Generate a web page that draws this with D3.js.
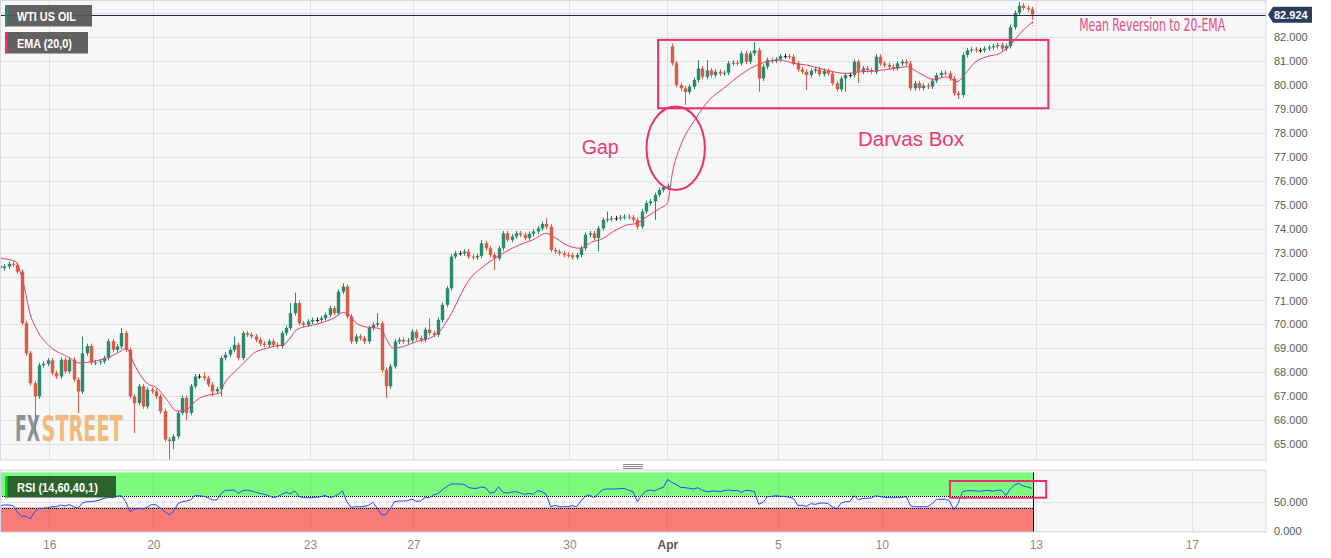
<!DOCTYPE html>
<html><head><meta charset="utf-8">
<script src="https://cdn.jsdelivr.net/npm/d3@7"></script>
<style>
html,body{margin:0;padding:0;background:#fff;}
svg{display:block;font-family:"Liberation Sans",Arial,sans-serif;}
</style></head><body>
<svg id="chart" width="1331" height="558"></svg>
<script>
// ---------------- DATA (2-hour bars) ----------------
const instrument = "WTI US OIL";
const emaLabel = "EMA (20,0)";
const rsiLabel = "RSI (14,60,40,1)";
const lastPrice = 82.924;

const opens = [
72.45,72.35,72.42,72.53,72.49,72.20,70.05,68.80,67.55,67.00,
68.30,68.36,68.50,67.97,67.83,68.53,68.04,68.53,67.70,67.20,
68.80,69.10,68.40,68.42,68.46,68.60,69.30,68.94,69.08,69.64,
68.94,67.00,66.72,67.42,66.58,67.28,67.21,67.00,66.38,65.20,
65.13,65.33,66.31,66.93,66.31,67.42,67.83,67.83,67.76,67.49,
67.21,67.30,68.60,68.74,68.94,69.15,68.60,69.64,69.57,69.50,
69.36,69.20,69.15,69.30,69.15,69.10,69.64,69.85,70.47,70.89,
70.05,69.99,70.12,70.19,70.19,70.26,70.40,70.68,70.47,71.37,
71.58,70.33,69.29,69.50,69.43,69.29,69.85,69.99,70.05,68.10,
67.42,68.25,69.29,69.36,69.29,69.33,69.70,69.43,69.36,69.78,
69.64,69.57,70.19,70.82,71.51,72.83,72.97,72.97,73.04,72.83,
72.80,72.86,73.39,73.18,72.90,72.76,73.18,73.80,73.53,73.67,
73.80,73.74,73.60,73.78,73.88,74.01,74.19,74.08,73.11,73.04,
72.97,72.90,72.89,72.80,72.90,73.18,73.74,73.80,73.60,74.01,
74.36,74.39,74.43,74.43,74.47,74.50,74.47,74.36,74.08,74.71,
75.06,75.13,75.40,75.61,75.72,81.60,80.90,79.99,79.85,79.70,
79.92,80.20,80.68,80.33,80.60,80.40,80.54,80.47,80.50,80.89,
80.92,80.89,81.31,80.96,81.31,81.44,80.26,80.75,81.03,81.00,
81.06,81.19,81.19,81.17,80.89,80.64,80.54,80.40,80.58,80.64,
80.44,80.58,80.47,80.06,79.81,80.26,80.40,80.40,80.96,80.54,
80.68,80.61,80.54,81.17,80.89,80.82,80.75,80.68,80.89,80.96,
80.89,79.85,80.06,79.86,79.96,79.92,80.17,80.40,80.50,80.47,
80.26,79.64,79.57,81.24,81.44,81.47,81.44,81.44,81.51,81.56,
81.61,81.65,81.51,81.61,82.40,83.00,83.30,83.20,83.15];

const highs = [
72.55,72.52,72.63,72.63,72.59,72.30,70.15,68.90,67.65,68.40,
68.46,68.60,68.60,68.07,68.63,68.63,68.63,68.63,67.80,69.50,
69.20,69.20,68.52,68.56,68.70,69.40,69.40,69.18,69.85,69.74,
69.04,67.10,67.52,67.52,67.38,67.38,67.31,67.10,66.48,65.30,
65.43,66.41,67.03,67.03,67.52,67.93,67.93,68.00,67.86,67.59,
67.40,68.70,68.84,69.04,69.50,69.25,69.74,69.74,69.67,69.60,
69.46,69.30,69.40,69.40,69.25,69.74,69.95,70.89,71.33,70.99,
70.15,70.22,70.29,70.29,70.36,70.50,70.78,70.78,71.47,71.72,
71.68,70.43,69.60,69.60,69.53,69.95,70.09,70.47,70.15,68.20,
68.35,69.39,69.46,69.46,69.43,69.80,69.80,69.53,69.88,70.26,
69.74,70.29,70.92,71.61,72.93,73.07,73.07,73.14,73.14,72.93,
72.96,73.53,73.49,73.28,73.00,73.28,73.90,73.90,73.77,73.90,
73.90,73.84,73.88,73.98,74.11,74.29,74.43,74.18,73.21,73.14,
73.07,73.00,72.99,73.00,73.28,73.84,73.90,73.90,74.11,74.46,
74.71,74.53,74.53,74.57,74.60,74.60,74.57,74.46,74.81,75.16,
75.23,75.50,75.71,75.82,75.88,81.72,81.00,80.09,79.95,80.02,
80.30,81.03,80.78,81.03,80.70,80.64,80.64,80.60,80.99,81.02,
81.02,81.41,81.41,81.41,81.79,81.54,80.85,81.13,81.13,81.16,
81.29,81.29,81.29,81.27,80.99,80.74,80.64,80.68,80.74,80.74,
80.68,80.68,80.57,80.16,80.36,80.50,80.50,81.06,81.06,80.78,
80.78,80.71,81.27,81.27,80.99,80.92,80.85,80.99,81.06,81.06,
80.99,80.16,80.16,80.06,80.06,80.27,80.50,80.60,80.60,80.57,
80.36,79.74,81.34,81.54,81.57,81.57,81.54,81.61,81.66,81.71,
81.75,81.75,81.71,82.50,83.10,83.45,83.40,83.30,83.25];

const lows = [
72.25,72.25,72.32,72.39,72.10,69.95,68.70,67.45,65.47,66.90,
68.20,68.26,67.87,67.73,67.73,67.94,67.94,67.60,66.30,67.10,
68.70,68.30,68.30,68.32,68.36,68.50,68.84,68.84,68.98,68.84,
66.90,65.47,66.62,66.48,66.48,67.11,66.90,66.28,65.10,64.36,
64.80,65.23,66.21,66.00,66.21,67.32,67.73,67.66,67.39,67.00,
67.11,67.00,68.50,68.64,68.84,68.50,68.50,69.47,69.40,69.26,
69.10,69.05,69.05,69.05,69.00,69.00,69.54,69.75,70.37,69.95,
69.89,69.89,70.02,70.09,70.09,70.16,70.30,70.37,70.37,71.27,
70.23,69.19,69.19,69.33,69.19,69.19,69.75,69.89,68.00,66.93,
67.32,68.15,69.19,69.19,69.19,69.23,69.33,69.26,69.26,69.54,
69.47,69.47,70.09,70.72,71.41,72.73,72.87,72.87,72.73,72.70,
72.70,72.76,73.08,72.80,72.28,72.66,73.08,73.43,73.43,73.57,
73.64,73.50,73.50,73.68,73.78,73.91,73.98,73.01,72.94,72.87,
72.80,72.79,72.70,72.70,72.80,73.08,73.64,73.50,73.04,73.91,
74.26,74.29,74.33,74.33,74.37,74.37,74.26,73.98,73.98,74.61,
74.96,74.36,75.30,75.51,75.62,80.80,79.89,79.75,79.15,79.60,
79.82,80.10,80.23,80.23,80.30,80.30,80.37,80.37,80.40,80.79,
80.79,80.79,80.86,80.86,81.21,79.71,80.16,80.65,80.90,80.90,
80.96,81.09,81.07,80.79,80.54,80.44,79.78,80.30,80.48,80.34,
80.34,80.37,79.96,79.71,79.71,79.71,80.30,80.30,80.08,80.44,
80.51,80.44,80.44,80.79,80.72,80.65,80.58,80.58,80.79,80.79,
79.75,79.75,79.76,79.76,79.82,79.82,80.07,80.30,80.37,80.16,
79.54,79.40,79.47,81.14,81.34,81.34,81.34,81.34,81.41,81.46,
81.51,81.41,81.41,81.51,82.30,82.90,83.10,83.05,82.82];

const closes = [
72.35,72.42,72.53,72.49,72.20,70.05,68.80,67.55,67.00,68.30,
68.36,68.50,67.97,67.83,68.53,68.04,68.53,67.70,67.20,68.80,
69.10,68.40,68.42,68.46,68.60,69.30,68.94,69.08,69.64,68.94,
67.00,66.72,67.42,66.58,67.28,67.21,67.00,66.38,65.20,65.13,
65.33,66.31,66.93,66.31,67.42,67.83,67.83,67.76,67.49,67.21,
67.30,68.60,68.74,68.94,69.15,68.60,69.64,69.57,69.50,69.36,
69.20,69.15,69.30,69.15,69.10,69.64,69.85,70.47,70.89,70.05,
69.99,70.12,70.19,70.19,70.26,70.40,70.68,70.47,71.37,71.58,
70.33,69.29,69.50,69.43,69.29,69.85,69.99,70.05,68.10,67.42,
68.25,69.29,69.36,69.29,69.33,69.70,69.43,69.36,69.78,69.64,
69.57,70.19,70.82,71.51,72.83,72.97,72.97,73.04,72.83,72.80,
72.86,73.39,73.18,72.90,72.76,73.18,73.80,73.53,73.67,73.80,
73.74,73.60,73.78,73.88,74.01,74.19,74.08,73.11,73.04,72.97,
72.90,72.89,72.80,72.90,73.18,73.74,73.80,73.60,74.01,74.36,
74.39,74.43,74.43,74.47,74.50,74.47,74.36,74.08,74.71,75.06,
75.13,75.40,75.61,75.72,75.78,80.90,79.99,79.85,79.70,79.92,
80.20,80.68,80.33,80.60,80.40,80.54,80.47,80.50,80.89,80.92,
80.89,81.31,80.96,81.31,81.44,80.26,80.75,81.03,81.00,81.06,
81.19,81.19,81.17,80.89,80.64,80.54,80.40,80.58,80.64,80.44,
80.58,80.47,80.06,79.81,80.26,80.40,80.40,80.96,80.54,80.68,
80.61,80.54,81.17,80.89,80.82,80.75,80.68,80.89,80.96,80.89,
79.85,80.06,79.86,79.96,79.92,80.17,80.40,80.50,80.47,80.26,
79.64,79.57,81.24,81.44,81.47,81.44,81.44,81.51,81.56,81.61,
81.65,81.51,81.61,82.40,83.00,83.30,83.20,83.15,82.924];

// EMA(20) readings: [bar index, value]
const emaPoints = [
[0,72.76],[3.5,72.63],[5.4,71.72],[6.9,70.47],[8.5,69.78],[11.5,69.08],[15.4,68.67],
[18.5,68.39],[21.5,68.46],[24.6,68.6],[27.7,68.87],[29.2,69.01],[30.8,68.39],[33.8,67.56],
[36.2,67.35],[38.5,66.86],[40.8,66.38],[43.1,66.44],[44.6,66.72],[46.1,66.93],[48,67.05],
[50.7,67.14],[51.8,67.56],[53.8,67.97],[56.2,68.39],[58.5,68.8],[61.5,69.01],[63,69.08],
[65.4,69.15],[66.9,69.43],[68.4,69.78],[70.7,69.92],[73.8,70.05],[76.9,70.26],[79.2,70.5],
[80.4,70.4],[82.2,70.05],[84.6,69.89],[86.9,69.85],[88,69.78],[89.2,69.36],[90.7,69.01],
[93,69.08],[96.1,69.29],[99.1,69.43],[101.4,69.71],[103.6,70.3],[108.2,71.86],[112,72.49],
[113.6,72.7],[116.7,73.04],[119.8,73.32],[122.9,73.53],[126,73.8],[127.6,73.67],[130.6,73.32],
[133.7,73.18],[136.8,73.46],[138.4,73.53],[141.5,73.88],[144.6,74.15],[146.9,74.22],
[149.2,74.5],[152.3,74.85],[153.9,75.05],[155.2,76.44],[156.9,77.42],[160.5,78.6],
[163.5,79.35],[166.9,79.85],[170.7,80.4],[173.8,80.75],[176.9,80.96],[180,81.03],
[183,80.89],[186.1,80.82],[189.2,80.68],[192.3,80.54],[195.3,80.47],[198.4,80.54],
[201.5,80.57],[204.6,80.64],[207.6,80.72],[209.1,80.75],[212.2,80.47],[215.3,80.22],
[218.4,80.33],[220.7,80.13],[223,80.54],[224.6,80.89],[227.6,81.17],[230.6,81.31],
[232.2,81.51],[236,82.28],[238,82.6]];

const rsiValues = [
43.2,44.4,44.4,43.2,32,25,25.6,20.5,33,38.7,
38.7,39.8,41.5,41.5,44.4,42.7,45,41.5,38.7,47.8,
50.1,50.1,51.2,52.9,55.7,57.4,56.9,59.7,60.3,50.1,
33,37,38.7,37.5,41,45.5,44.4,38.7,33,27.8,
33,46.1,50.1,51.2,53.4,60.3,60.3,59.2,56.9,52.9,
52.9,64.3,69.4,69.4,70,64.3,68.8,70,68.3,66,
64.3,62.6,60.3,56.9,58.6,62.6,66,63.7,68.3,58.6,
56.9,56.9,56.9,57.4,58.6,60.8,56.9,58.6,62.6,68.3,
50.1,40.3,41.5,41.5,42,43.8,49,38.7,27.3,27.8,
37.5,50.1,51.2,51.2,51.8,54.6,50.6,51.2,56.9,56.9,
61.4,63.7,70,75.6,80.2,80.2,80.2,79.6,74.5,72.8,
72.8,75,73.9,64.8,66,75.6,66,64.8,66.5,67.1,
64.8,62.6,64.3,62.6,68.8,67.1,62.6,41.5,43.8,41.5,
41.5,41.5,43.2,41.5,51.2,59.2,61.4,56.9,63.7,70.5,
71.7,71.7,71.7,72.2,72.8,69.4,67.1,50.1,61.4,68.3,
70,68.3,72.2,74.5,88,83,79.1,74.5,73.9,72.8,
71.7,73.9,69.4,67.1,67.7,68.3,67.1,68.8,70,68.8,
69.4,66,69.4,68.8,67.1,45.5,49,58.6,59.2,60.3,
59.2,59.2,57.4,55.7,43.8,43.8,42,46.6,45.5,47.2,
47.8,46.6,41,37.5,47.8,50.1,50.1,60.3,53.4,55.7,
55.7,56.3,60.3,58.6,57.4,56.9,56.9,56.9,57.4,58.6,
43.2,41.5,41.5,41.5,41.5,47.2,54,54,54.6,51.2,
36,47.2,67.1,68.8,68.8,68.3,67.7,68.8,69.4,67.7,
69.4,69.4,60.3,71.7,78.5,81.3,76.9,75,72.8];

const priceTicks = [65,66,67,68,69,70,71,72,73,74,75,76,77,78,79,80,81,82];
const rsiTicks = [0,50];
const rsiBands = {upper: 60, lower: 40};
const dayLabels = ["16","20","23","27","30","Apr","5","10","13","17"];
const dayPositions = [11.37,35.37,71.51,95.34,131.33,153.93,179.40,203.39,238.92,274.9];

// annotations in data units (bar index, price / rsi)
const darvasBox = {i0: 151.8, i1: 241.8, p0: 79.02, p1: 81.87};
const gapEllipse = {i: 155.85, p: 77.35, di: 6.73, dp: 1.74};
const rsiBox = {i0: 219.1, i1: 241.3, r0: 56.8, r1: 85.3};
const notes = [
  {text: "Gap", i: 134.2, p: 77.11, size: 19.5},
  {text: "Darvas Box", i: 197.9, p: 77.44, size: 20.5}
];
const meanRev = {text: "Mean Reversion to 20-EMA", i: 248.9, p: 82.25, w: 146};
const watermark = [{text: "FX", color: "#8e929a", i: 3.46, w: 25}, {text: "STREET", color: "#f2b87c", i: 9.6, w: 81}];

// ---------------- DRAWING ----------------
const GREEN = "#2a8a6f", RED = "#dc5b45", PINK = "#ec2f6b";
const plotW = 1266;
const main = {top: 0.5, bottom: 460};
const sub = {top: 470, bottom: 532};

const svg = d3.select("#chart");
const x = d3.scaleLinear().domain([0, 292]).range([0, plotW]);
const y = d3.scaleLinear().domain([65, 82]).range([444.3, 36.8]);
const yR = d3.scaleLinear().domain([0, 100]).range([531, 472.4]);

// squeeze a text horizontally to an exact width (condensed look)
function fitWidth(sel, x0, y0, w) {
  sel.attr("x", 0).attr("y", 0);
  const natural = sel.node().getComputedTextLength() || w;
  sel.attr("transform", `translate(${x0},${y0}) scale(${w / natural},1)`);
}

const defs = svg.append("defs");
defs.append("clipPath").attr("id", "clipMain").append("rect")
  .attr("x", 0).attr("y", main.top).attr("width", plotW).attr("height", main.bottom - main.top);
defs.append("clipPath").attr("id", "clipSub").append("rect")
  .attr("x", 0).attr("y", sub.top).attr("width", plotW).attr("height", sub.bottom - sub.top);

// panel backgrounds
svg.append("rect").attr("x", 0.5).attr("y", main.top).attr("width", plotW - 0.5)
  .attr("height", main.bottom - main.top).attr("fill", "#f7f7f7");
svg.append("rect").attr("x", 0.5).attr("y", sub.top).attr("width", plotW - 0.5)
  .attr("height", sub.bottom - sub.top).attr("fill", "#f7f7f7");

const gMain = svg.append("g").attr("clip-path", "url(#clipMain)");
const gSub = svg.append("g").attr("clip-path", "url(#clipSub)");

// grid (main)
const gridPrices = d3.range(64, 84);
gMain.append("g").selectAll("line").data(gridPrices).join("line")
  .attr("x1", 0).attr("x2", plotW)
  .attr("y1", d => Math.round(y(d)) + 0.5).attr("y2", d => Math.round(y(d)) + 0.5)
  .attr("stroke", "#e1e1e1").attr("stroke-width", 1);
gMain.append("g").selectAll("line").data(dayPositions).join("line")
  .attr("x1", d => Math.round(x(d)) + 0.5).attr("x2", d => Math.round(x(d)) + 0.5)
  .attr("y1", main.top).attr("y2", main.bottom)
  .attr("stroke", "#e1e1e1").attr("stroke-width", 1);

// watermark (two separate words, squeezed)
gMain.append("g").selectAll("text").data(watermark).join("text")
  .attr("font-family", "'Liberation Sans Narrow','DejaVu Sans Condensed',sans-serif")
  .attr("font-weight", "bold").attr("font-size", 35)
  .attr("fill", d => d.color).text(d => d.text)
  .each(function(d) { fitWidth(d3.select(this), x(d.i), 441, d.w); });

// candles
const idx = d3.range(closes.length);
const cColor = i => closes[i] > opens[i] ? GREEN : (closes[i] < opens[i] ? RED : "#222");
const cx = i => Math.round(x(i)) + 0.5;
gMain.append("g").selectAll("line").data(idx).join("line")
  .attr("x1", cx).attr("x2", cx)
  .attr("y1", i => y(highs[i])).attr("y2", i => y(lows[i]))
  .attr("stroke", cColor).attr("stroke-width", 1);
gMain.append("g").selectAll("rect").data(idx).join("rect")
  .attr("x", i => cx(i) - 1.7).attr("width", 3.4)
  .attr("y", i => y(Math.max(opens[i], closes[i])))
  .attr("height", i => Math.max(1, Math.abs(y(opens[i]) - y(closes[i]))))
  .attr("fill", cColor);

// EMA line
gMain.append("path").datum(emaPoints)
  .attr("d", d3.line().x(d => x(d[0])).y(d => y(d[1])).curve(d3.curveMonotoneX))
  .attr("fill", "none").attr("stroke", "#ee3a6f").attr("stroke-width", 1);

// last price line
gMain.append("line").attr("x1", 0).attr("x2", plotW)
  .attr("y1", Math.round(y(lastPrice)) + 0.5).attr("y2", Math.round(y(lastPrice)) + 0.5)
  .attr("stroke", "#1e2b45").attr("stroke-width", 1);

// annotations
gMain.append("rect")
  .attr("x", x(darvasBox.i0)).attr("y", y(darvasBox.p1))
  .attr("width", x(darvasBox.i1) - x(darvasBox.i0)).attr("height", y(darvasBox.p0) - y(darvasBox.p1))
  .attr("fill", "none").attr("stroke", PINK).attr("stroke-width", 2);
gMain.append("ellipse")
  .attr("cx", x(gapEllipse.i)).attr("cy", y(gapEllipse.p))
  .attr("rx", x(gapEllipse.di) - x(0)).attr("ry", y(0) - y(gapEllipse.dp))
  .attr("fill", "none").attr("stroke", PINK).attr("stroke-width", 2);
gMain.selectAll("text.note").data(notes).join("text").attr("class", "note")
  .attr("x", d => x(d.i)).attr("y", d => y(d.p))
  .attr("font-size", d => d.size).attr("fill", "#ea3a72").text(d => d.text);
const mr = gMain.append("text")
  .attr("font-family", "'Liberation Sans Narrow','DejaVu Sans Condensed',sans-serif")
  .attr("font-size", 17).attr("fill", "#ee4a80")
  .text(meanRev.text);
fitWidth(mr, x(meanRev.i), y(meanRev.p), meanRev.w);
gMain.append("line")
  .attr("x1", cx(closes.length - 1)).attr("x2", cx(closes.length - 1))
  .attr("y1", y(82.8)).attr("y2", y(82.45))
  .attr("stroke", PINK).attr("stroke-width", 1.2).attr("stroke-dasharray", "2,2");

// panel borders
svg.append("rect").attr("x", 0.5).attr("y", main.top).attr("width", plotW - 0.5)
  .attr("height", main.bottom - main.top).attr("fill", "none").attr("stroke", "#d3d8e4");
svg.append("rect").attr("x", 0.5).attr("y", sub.top).attr("width", plotW - 0.5)
  .attr("height", sub.bottom - sub.top).attr("fill", "none").attr("stroke", "#d3d8e4");

// resize handle
svg.append("g").selectAll("line").data([464, 466, 468]).join("line")
  .attr("x1", 623).attr("x2", 643).attr("y1", d => d + 0.5).attr("y2", d => d + 0.5)
  .attr("stroke", "#8a8a8a").attr("stroke-width", 1);

// RSI panel
const dataEndX = x(closes.length - 1) + 1.5;
gSub.append("rect").attr("x", 0).attr("width", dataEndX)
  .attr("y", yR(100)).attr("height", yR(rsiBands.upper) - yR(100)).attr("fill", "#7dfa7d");
gSub.append("rect").attr("x", 0).attr("width", dataEndX)
  .attr("y", yR(rsiBands.lower)).attr("height", yR(0) - yR(rsiBands.lower) + 2).attr("fill", "#f97c78");
gSub.append("g").selectAll("line").data(rsiTicks).join("line")
  .attr("x1", 0).attr("x2", plotW)
  .attr("y1", d => Math.round(yR(d)) + 0.5).attr("y2", d => Math.round(yR(d)) + 0.5)
  .attr("stroke", "rgba(0,0,0,0.08)");
gSub.append("g").selectAll("line").data(dayPositions).join("line")
  .attr("x1", d => Math.round(x(d)) + 0.5).attr("x2", d => Math.round(x(d)) + 0.5)
  .attr("y1", sub.top).attr("y2", sub.bottom)
  .attr("stroke", "rgba(0,0,0,0.07)");
gSub.append("g").selectAll("line").data([rsiBands.upper, rsiBands.lower]).join("line")
  .attr("x1", 0).attr("x2", dataEndX)
  .attr("y1", d => Math.round(yR(d)) + 0.5).attr("y2", d => Math.round(yR(d)) + 0.5)
  .attr("stroke", "#000").attr("stroke-width", 1).attr("stroke-dasharray", "1,1");
gSub.append("line").attr("x1", Math.round(dataEndX) + 0.5).attr("x2", Math.round(dataEndX) + 0.5)
  .attr("y1", yR(100)).attr("y2", sub.bottom).attr("stroke", "#000");
gSub.append("path").datum(rsiValues)
  .attr("d", d3.line().x((d, i) => x(i)).y(d => yR(d)))
  .attr("fill", "none").attr("stroke", "#1f4cff").attr("stroke-width", 1);
gSub.append("rect")
  .attr("x", x(rsiBox.i0)).attr("y", yR(rsiBox.r1))
  .attr("width", x(rsiBox.i1) - x(rsiBox.i0)).attr("height", yR(rsiBox.r0) - yR(rsiBox.r1))
  .attr("fill", "none").attr("stroke", PINK).attr("stroke-width", 2);

// right axes
const yAxis = d3.axisRight(y).tickValues(priceTicks).tickFormat(d3.format(".3f")).tickSize(0).tickPadding(8);
const gy = svg.append("g").attr("transform", `translate(${plotW},0)`).call(yAxis);
const yAxisR = d3.axisRight(yR).tickValues(rsiTicks).tickFormat(d3.format(".3f")).tickSize(0).tickPadding(8);
const gyr = svg.append("g").attr("transform", `translate(${plotW},0)`).call(yAxisR);
[gy, gyr].forEach(g => {
  g.select(".domain").remove();
  g.selectAll("text").attr("font-size", 11).attr("fill", "#5a5a5a")
    .attr("font-family", "'Liberation Sans',Arial,sans-serif");
});

// bottom axis
const xAxis = d3.axisBottom(x).tickValues(dayPositions).tickFormat((d, i) => dayLabels[i]).tickSize(0).tickPadding(8);
const gx = svg.append("g").attr("transform", `translate(0,${sub.bottom})`).call(xAxis);
gx.select(".domain").remove();
gx.selectAll("text").attr("font-size", 12)
  .attr("font-family", "'Liberation Sans',Arial,sans-serif")
  .attr("font-weight", (d, i) => dayLabels[i] === "Apr" ? "bold" : "normal")
  .attr("fill", (d, i) => dayLabels[i] === "Apr" ? "#555" : "#8a8a8a");

// last price tag
const ly = y(lastPrice);
svg.append("path")
  .attr("d", `M${plotW + 2},${ly} L${plotW + 7},${ly - 8} L${plotW + 46},${ly - 8} L${plotW + 46},${ly + 8} L${plotW + 7},${ly + 8} Z`)
  .attr("fill", "#2c3d5d");
svg.append("text").attr("x", plotW + 8).attr("y", ly + 4)
  .attr("font-size", 11).attr("font-weight", "bold").attr("fill", "#fff")
  .text(d3.format(".3f")(lastPrice));

// legends
const legends = [
  {label: instrument, y: 5, w: 87, strip: "#2a8a6f", bg: "rgba(85,85,85,0.92)", tl: 59},
  {label: emaLabel, y: 32, w: 83, strip: "#ee2f6a", bg: "rgba(85,85,85,0.92)", tl: 55},
  {label: rsiLabel, y: 476, w: 111, strip: "#00dd00", bg: "rgba(40,90,40,0.95)", tl: 81}
];
const lg = svg.append("g").selectAll("g").data(legends).join("g");
lg.append("rect").attr("x", 5).attr("y", d => d.y).attr("width", d => d.w).attr("height", 21.5)
  .attr("fill", d => d.bg);
lg.append("rect").attr("x", 5).attr("y", d => d.y).attr("width", 2.5).attr("height", 21.5)
  .attr("fill", d => d.strip);
lg.append("text")
  .attr("font-size", 12).attr("font-weight", "bold").attr("fill", "#fff")
  .text(d => d.label)
  .each(function(d) { fitWidth(d3.select(this), 17, d.y + 15.5, d.tl); });
</script>
</body></html>
